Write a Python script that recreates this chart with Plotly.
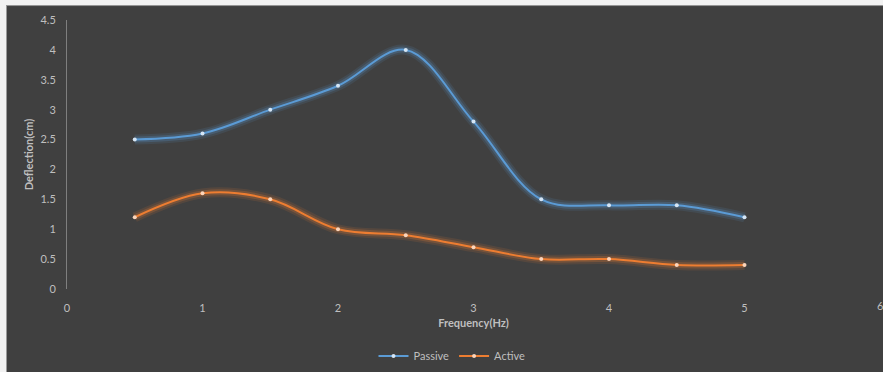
import plotly.graph_objects as go

# Frequency sweep (Hz) and measured deflection (cm)
frequency = [0.5, 1, 1.5, 2, 2.5, 3, 3.5, 4, 4.5, 5]
passive = [2.5, 2.6, 3.0, 3.4, 4.0, 2.8, 1.5, 1.4, 1.4, 1.2]
active = [1.2, 1.6, 1.5, 1.0, 0.9, 0.7, 0.5, 0.5, 0.4, 0.4]

x_ticks = [0, 1, 2, 3, 4, 5, 6]
y_ticks = [0, 0.5, 1, 1.5, 2, 2.5, 3, 3.5, 4, 4.5]

BG = "#404040"
TXT = "#bfbfbf"
FONT = "Lato"

series = [
    ("Passive", passive, "#5b9bd5", "#d6e6f5"),
    ("Active", active, "#ed7d31", "#fbd5bb"),
]

fig = go.Figure()

# soft glow beneath each line
for name, vals, col, _ in series:
    for w, op in [(10, 0.12), (6, 0.22)]:
        fig.add_trace(go.Scatter(
            x=frequency, y=vals, mode="lines",
            line=dict(color=col, width=w, shape="spline", smoothing=1),
            opacity=op, showlegend=False, hoverinfo="skip",
        ))

for name, vals, col, mk in series:
    fig.add_trace(go.Scatter(
        x=frequency, y=vals, mode="lines+markers", name=name,
        line=dict(color=col, width=2, shape="spline", smoothing=1),
        marker=dict(color=mk, size=4, line=dict(width=0)),
    ))

L, R, T, B = 67, 3, 20, 82
W, H = 883, 372
pw, ph = W - L - R, H - T - B

# light frame strips along the top and left edges
fig.add_shape(type="rect", xref="paper", yref="paper", layer="above",
              x0=-L / pw, x1=(W - L) / pw, y0=1 + (T - 5) / ph, y1=1 + T / ph + 0.01,
              fillcolor="#f2f2f2", line=dict(width=0))
fig.add_shape(type="rect", xref="paper", yref="paper", layer="above",
              x0=-L / pw - 0.01, x1=-(L - 6) / pw, y0=-B / ph - 0.01, y1=1 + T / ph + 0.01,
              fillcolor="#f2f2f2", line=dict(width=0))
fig.add_shape(type="line", xref="paper", yref="paper", layer="above",
              x0=-(L - 6) / pw, x1=(W - L) / pw, y0=1 + (T - 5.5) / ph, y1=1 + (T - 5.5) / ph,
              line=dict(color="#9a9a9a", width=1))
fig.add_shape(type="line", xref="paper", yref="paper", layer="above",
              x0=-(L - 6.5) / pw, x1=-(L - 6.5) / pw, y0=-B / ph - 0.01, y1=1 + (T - 5.5) / ph,
              line=dict(color="#9a9a9a", width=1))

# last x tick label sits at the right edge and would otherwise be dropped
fig.add_annotation(x=x_ticks[-1], xref="x", y=-(307 - 290) / ph, yref="paper",
                   text=str(x_ticks[-1]), showarrow=False, xanchor="center", yanchor="middle",
                   font=dict(family=FONT, size=11, color=TXT))

fig.update_layout(
    width=W, height=H,
    margin=dict(l=L, r=R, t=T, b=B),
    paper_bgcolor=BG, plot_bgcolor=BG,
    font=dict(family=FONT, size=11, color=TXT),
    showlegend=True,
    legend=dict(orientation="h", x=(452 - L) / pw, xanchor="center",
                y=-(356 - 290) / ph, yanchor="middle",
                font=dict(family=FONT, size=11, color=TXT),
                bgcolor="rgba(0,0,0,0)", itemwidth=30, tracegroupgap=0),
    xaxis=dict(
        range=[0, 6], tickvals=x_ticks[:-1], ticktext=[str(v) for v in x_ticks[:-1]],
        showgrid=False, zeroline=False, showline=False,
        ticks="outside", ticklen=9, tickcolor="rgba(0,0,0,0)",
        tickfont=dict(family=FONT, size=11, color=TXT),
        title=dict(text="<b>Frequency(Hz)</b>", standoff=6,
                   font=dict(family=FONT, size=11, color=TXT)),
    ),
    yaxis=dict(
        range=[0, 4.5], tickvals=y_ticks,
        ticktext=["0", "0.5", "1", "1.5", "2", "2.5", "3", "3.5", "4", "4.5"],
        showgrid=False, zeroline=False, showline=True, linecolor="#7f7f7f", linewidth=1,
        ticks="outside", ticklen=8, tickcolor="rgba(0,0,0,0)",
        tickfont=dict(family=FONT, size=11, color=TXT),
        title=dict(text="<b>Deflection(cm)</b>", standoff=4,
                   font=dict(family=FONT, size=11, color=TXT)),
    ),
)

fig.write_html("out.html")
